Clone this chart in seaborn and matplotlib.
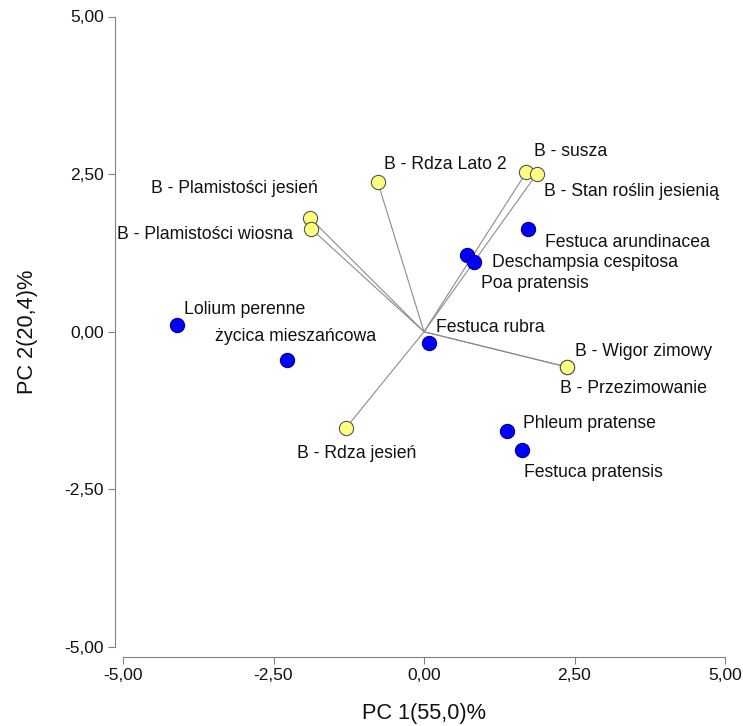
import numpy as np
import pandas as pd
import matplotlib
matplotlib.use("Agg")
import matplotlib.pyplot as plt
from matplotlib.ticker import FuncFormatter, FixedLocator
import seaborn as sns

# trait vectors (yellow)
trait_names = ["B - Rdza Lato 2", "B - susza", "B - Stan roślin jesienią",
               "B - Plamistości jesień", "B - Plamistości wiosna",
               "B - Wigor zimowy", "B - Przezimowanie", "B - Rdza jesień"]
trait_pc1 = [-0.77, 1.70, 1.87, -1.89, -1.87, 2.38, 2.38, -1.30]
trait_pc2 = [2.38, 2.53, 2.50, 1.80, 1.63, -0.56, -0.56, -1.53]

# species scores (blue)
species_names = ["Festuca arundinacea", "Deschampsia cespitosa", "Poa pratensis",
                 "Festuca rubra", "Lolium perenne", "życica mieszańcowa",
                 "Phleum pratense", "Festuca pratensis"]
species_pc1 = [1.73, 0.71, 0.83, 0.08, -4.10, -2.28, 1.38, 1.63]
species_pc2 = [1.63, 1.21, 1.10, -0.18, 0.10, -0.45, -1.57, -1.87]

ticks = [-5.0, -2.5, 0.0, 2.5, 5.0]

# label offsets in pixels (dx right, dy down) from the point to the text's left-middle
trait_offsets = [(6, -17), (8, -21), (7, 17), (-159, -30), (-194, 6),
                 (8, -16), (-7, 21), (-49, 25)]
species_offsets = [(17, 14), (25, 7), (7, 21), (7, -16), (7, -16),
                   (-72, -24), (16, -7), (2, 23)]

sns.set_style("white")
plt.rcParams["font.family"] = ["Liberation Sans", "DejaVu Sans"]

df = pd.DataFrame({
    "pc1": trait_pc1 + species_pc1,
    "pc2": trait_pc2 + species_pc2,
    "kind": ["trait"] * len(trait_names) + ["species"] * len(species_names),
})

fig = plt.figure(figsize=(7.43, 7.26), dpi=100)
ax = fig.add_axes([123 / 743, 1 - 647 / 726, 602 / 743, 630.5 / 726])

# vectors from origin
for x, y in zip(trait_pc1, trait_pc2):
    ax.plot([0, x], [0, y], color="#8c8c8c", lw=0.8, zorder=1)

sns.scatterplot(data=df[df.kind == "trait"], x="pc1", y="pc2", ax=ax,
                color="#ffff80", edgecolor="#555555", linewidth=0.8, s=105, zorder=3)
sns.scatterplot(data=df[df.kind == "species"], x="pc1", y="pc2", ax=ax,
                color="#0000ff", edgecolor="#00008b", linewidth=0.8, s=105, zorder=3)

px2pt = 72 / 100
for names, xs, ys, offs in [(trait_names, trait_pc1, trait_pc2, trait_offsets),
                            (species_names, species_pc1, species_pc2, species_offsets)]:
    for n, x, y, (dx, dy) in zip(names, xs, ys, offs):
        ax.annotate(n, (x, y), xytext=(dx * px2pt, -dy * px2pt), textcoords="offset points",
                    ha="left", va="center", fontsize=12.7, color="#111111")

ax.set_xlim(-5, 5)
ax.set_ylim(-5, 5)
ax.xaxis.set_major_locator(FixedLocator(ticks))
ax.yaxis.set_major_locator(FixedLocator(ticks))
fmt = FuncFormatter(lambda v, p: f"{v:.2f}".replace(".", ",").replace("-0,00", "0,00"))
ax.xaxis.set_major_formatter(fmt)
ax.yaxis.set_major_formatter(fmt)
ax.tick_params(axis="both", direction="out", length=5, width=0.8, color="#808080",
               labelsize=12.5, labelcolor="#111111", left=True, bottom=True, pad=3)

ax.set_xlabel("PC 1(55,0)%", fontsize=15.7, color="#111111", labelpad=14)
ax.set_ylabel("PC 2(20,4)%", fontsize=15.7, color="#111111", labelpad=19)

sns.despine(ax=ax, offset=dict(left=5.8, bottom=7.2), trim=True)
for s in ["left", "bottom"]:
    ax.spines[s].set_color("#808080")
    ax.spines[s].set_linewidth(0.8)

fig.savefig("out.png", dpi=100)
